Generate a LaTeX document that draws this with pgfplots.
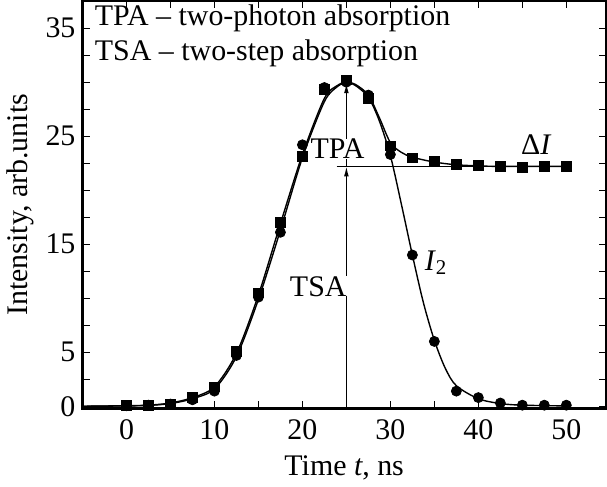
\documentclass[border=0pt]{standalone}
\usepackage{fontspec}
\setmainfont{Liberation Serif}
\usepackage{pgfplots}
\usepackage{pgfplotstable}
\pgfplotsset{compat=1.18}
\usetikzlibrary{arrows.meta}

% measured points
\pgfplotstableread{
x    sq     ci
0    0.1    0.05
2.5  0.1    0.1
5    0.2    0.2
7.5  0.8    0.6
10   1.8    1.4
12.5 5.1    4.7
15   10.5   10.1
17.5 17.0   16.1
20   23.1   24.2
22.5 29.3   29.5
25   30.2   30.0
27.5 28.5   28.8
30   24.1   23.3
32.5 23.0   14.0
35   22.7   6.0
37.5 22.4   1.4
40   22.3   0.8
42.5 22.2   0.3
45   22.1   0.1
47.5 22.2   0.1
50   22.2   0.1
}\pts

% fitted curves
\pgfplotstableread{
x     y
-5    0.0
0     0.05
2.5   0.1
5     0.3
7.5   0.8
10    1.8
12.5  4.9
15    10.3
17.5  16.9
20    23.3
22.5  28.5
24    29.7
25    30.0
26    29.8
27.5  28.8
28.75 26.7
30    24.4
31.25 23.5
32.5  23.05
35    22.6
37.5  22.35
40    22.25
42.5  22.2
50    22.2
}\fitone

\pgfplotstableread{
x     y
-5    0.0
0     0.03
2.5   0.08
5     0.25
7.5   0.7
10    1.6
12.5  4.6
15    9.9
17.5  16.3
20    23.0
22.5  28.2
24    29.6
25    29.95
26    29.7
27.5  28.6
28.75 26.4
30    23.2
31.25 18.7
32.5  14.0
33.75 9.6
35    6.1
36.25 3.5
37.5  1.9
40    0.7
42.5  0.25
45    0.1
50    0.03
}\fittwo

\newcommand\fs{\fontsize{15}{18}\selectfont}

\begin{document}
\begin{tikzpicture}[font=\fs]
\begin{axis}[
  width=261.5bp, height=203.5bp, scale only axis,
  xmin=-5, xmax=54.5, ymin=-0.2, ymax=37.5,
  xtick={0,10,...,50}, minor xtick={5,15,25,35,45},
  ytick={0,5,15,25,35},
  minor ytick={2.5,7.5,10,12.5,17.5,20,22.5,27.5,30,32.5},
  tick align=inside,
  major tick length=3.5bp, minor tick length=3.5bp,
  axis line style={line width=1.1bp},
  tick style={line width=0.6bp, black},
  /pgf/number format/assume math mode=true,
  tick label style={font=\fs},
  label style={font=\fs},
  xlabel={Time \textit{t}, ns},
  ylabel={Intensity, arb.units},
  xticklabel style={yshift=-2bp},
  xlabel style={yshift=-1bp},
  ylabel style={yshift=-1bp},
  clip=false,
]
\addplot[black, line width=0.7bp, smooth] table[x=x, y=y] {\fitone};
\addplot[black, line width=0.7bp, smooth] table[x=x, y=y] {\fittwo};
\addplot[only marks, mark=*, mark size=2.5bp, black] table[x=x, y=ci] {\pts};
\addplot[only marks, mark=square*, mark size=2.4bp, black] table[x=x, y=sq] {\pts};
\addplot[black, line width=0.6bp] coordinates {(23.9,22.2) (50.2,22.2)};
\addplot[black, line width=0.6bp, -{Latex[length=5bp,width=2.4bp]}] coordinates {(25,0) (25,22.2)};
\addplot[black, line width=0.6bp, -{Latex[length=5bp,width=2.4bp]}] coordinates {(25,22.2) (25,29.9)};
\node[fill=white, inner sep=0pt] at (axis cs:24.0,23.8) {TPA};
\node[fill=white, inner sep=0pt] at (axis cs:21.8,11.1) {TSA};
\node at (axis cs:46.6,24.2) {Δ\textit{I}};
\node at (axis cs:35.2,13.3) {\textit{I}\textsubscript{2}};
\node[anchor=base west, inner sep=0pt] at (rel axis cs:0.023,0.939) {TPA – two-photon absorption};
\node[anchor=base west, inner sep=0pt] at (rel axis cs:0.023,0.855) {TSA – two-step absorption};
\end{axis}
\end{tikzpicture}
\end{document}
